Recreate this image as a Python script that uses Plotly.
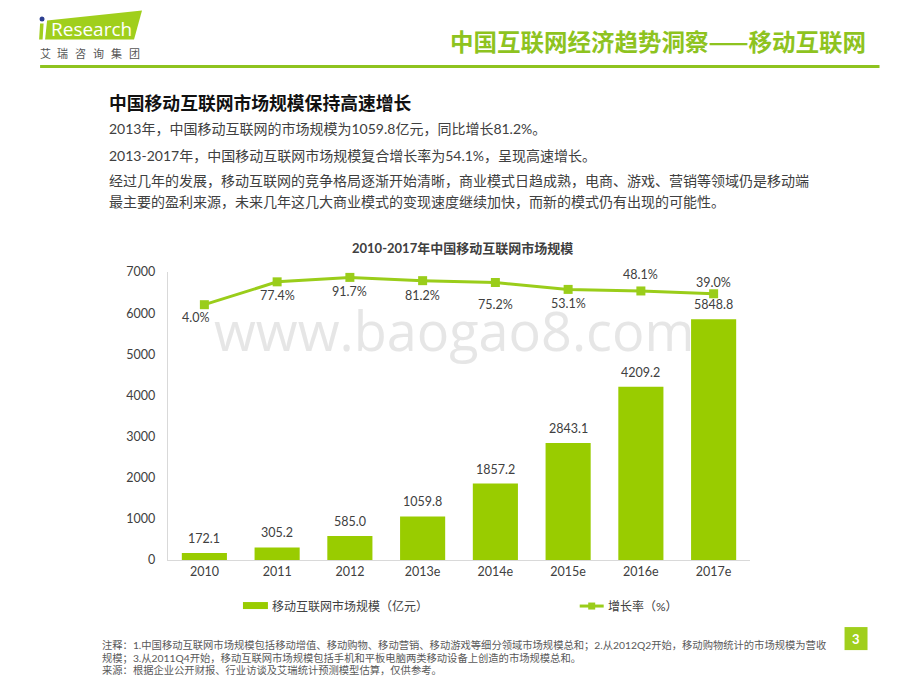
import plotly.graph_objects as go

# ---------------- data ----------------
categories = ["2010", "2011", "2012", "2013e", "2014e", "2015e", "2016e", "2017e"]
market_size = [172.1, 305.2, 585.0, 1059.8, 1857.2, 2843.1, 4209.2, 5848.8]
growth_rate = [4.0, 77.4, 91.7, 81.2, 75.2, 53.1, 48.1, 39.0]
y_ticks = [0, 1000, 2000, 3000, 4000, 5000, 6000, 7000]

# ---------------- styles ----------------
GREEN = "#99CC00"
LINE_GREEN = "#9ACD1A"
HEAD_GREEN = "#8EC31F"
TXT = "#404040"
CJK = "Noto Sans CJK SC"
NUMF = "Lato, Noto Sans CJK SC"

# growth label offsets (px): (xshift, yshift)
growth_label_offsets = [(-9, -13), (0, -14), (0, -14), (0, -15), (0, -22), (0, -14), (0, 16), (0, 11)]

W, H = 920, 690
L, R, T, B = 168, 750.4, 272.3, 560


def px(x):
    return (x - L) / (R - L)


def py(y):
    return (B - y) / (B - T)


fig = go.Figure()

fig.add_trace(go.Bar(
    x=categories, y=market_size, marker=dict(color=GREEN, line=dict(width=0)),
    yaxis="y", showlegend=False, hoverinfo="x+y"))

fig.add_trace(go.Scatter(
    x=categories, y=growth_rate, mode="lines+markers", yaxis="y2",
    line=dict(color=LINE_GREEN, width=3),
    marker=dict(symbol="square", size=9, color=LINE_GREEN),
    showlegend=False))

annotations = []
shapes = []


def note(x, y, text, size, color, family=NUMF, xanchor="left"):
    annotations.append(dict(x=px(x), y=py(y), xref="paper", yref="paper", text=text,
                            showarrow=False, xanchor=xanchor, yanchor="middle",
                            font=dict(family=family, size=size, color=color)))


# watermark (drawn first, underneath the labels)
note(454, 330, "www.baogao8.com", 54, "rgba(200,200,200,0.45)", family="Open Sans, Lato", xanchor="center")

# bar value labels (category index positions)
for i, v in enumerate(market_size):
    annotations.append(dict(x=i, y=v, xref="x", yref="y", text=f"{v:.1f}",
                            showarrow=False, xanchor="center", yanchor="bottom", yshift=5,
                            font=dict(family=NUMF, size=12.5, color=TXT)))

# growth labels
for i, (g, (dx, dy)) in enumerate(zip(growth_rate, growth_label_offsets)):
    annotations.append(dict(x=i, y=g, xref="x", yref="y2", text=f"{g:.1f}%",
                            showarrow=False, xanchor="center", yanchor="middle", xshift=dx, yshift=dy,
                            font=dict(family=NUMF, size=12.5, color=TXT)))

# chart title
note(463, 248, "<b>2010-2017年中国移动互联网市场规模</b>", 13, TXT, xanchor="center")

# header title
note(868, 42, "<b>中国互联网经济趋势洞察——移动互联网</b>", 23.5, HEAD_GREEN, family=CJK, xanchor="right")

# section heading + paragraphs
note(107, 102, "<b>中国移动互联网市场规模保持高速增长</b>", 17.8, "#111111", family=CJK)
para = [
    (129, "2013年，中国移动互联网的市场规模为1059.8亿元，同比增长81.2%。"),
    (156, "2013-2017年，中国移动互联网市场规模复合增长率为54.1%，呈现高速增长。"),
    (181, "经过几年的发展，移动互联网的竞争格局逐渐开始清晰，商业模式日趋成熟，电商、游戏、营销等领域仍是移动端"),
    (202, "最主要的盈利来源，未来几年这几大商业模式的变现速度继续加快，而新的模式仍有出现的可能性。"),
]
for yy, t in para:
    note(107, yy, t, 14, TXT)

# footnotes
notes = [
    (645, "注释：1.中国移动互联网市场规模包括移动增值、移动购物、移动营销、移动游戏等细分领域市场规模总和；2.从2012Q2开始，移动购物统计的市场规模为营收"),
    (657.5, "规模；3.从2011Q4开始，移动互联网市场规模包括手机和平板电脑两类移动设备上创造的市场规模总和。"),
    (670, "来源：根据企业公开财报、行业访谈及艾瑞统计预测模型估算，仅供参考。"),
]
for yy, t in notes:
    note(100, yy, t, 10.3, "#595959")

# legend (custom)
shapes.append(dict(type="rect", xref="paper", yref="paper", x0=px(243), x1=px(268), y0=py(609), y1=py(602),
                   fillcolor=GREEN, line=dict(width=0), layer="below"))
note(270, 606, "移动互联网市场规模（亿元）", 12, TXT)
shapes.append(dict(type="line", xref="paper", yref="paper", x0=px(580), x1=px(604), y0=py(606), y1=py(606),
                   line=dict(color=LINE_GREEN, width=3), layer="below"))
shapes.append(dict(type="rect", xref="paper", yref="paper", x0=px(588.5), x1=px(595.5), y0=py(609.5), y1=py(602.5),
                   fillcolor=LINE_GREEN, line=dict(width=0), layer="below"))
note(606, 606, "增长率（%）", 12, TXT)

# header line
shapes.append(dict(type="line", xref="paper", yref="paper", x0=px(40), x1=px(880), y0=py(67), y1=py(67),
                   line=dict(color=HEAD_GREEN, width=3), layer="below"))

# logo
shapes.append(dict(type="path", xref="paper", yref="paper",
                   path=f"M {px(47)} {py(21)} L {px(142)} {py(11)} L {px(134)} {py(40)} L {px(45)} {py(40)} Z",
                   fillcolor="#A0CF1C", line=dict(width=0), layer="below"))
shapes.append(dict(type="path", xref="paper", yref="paper",
                   path=f"M {px(40)} {py(24)} L {px(43.5)} {py(24)} L {px(42.5)} {py(40)} L {px(39)} {py(40)} Z",
                   fillcolor="#A0CF1C", line=dict(width=0), layer="below"))
shapes.append(dict(type="circle", xref="paper", yref="paper", x0=px(39.5), x1=px(44.5), y0=py(22), y1=py(17),
                   fillcolor="#2C3E91", line=dict(width=0), layer="below"))
note(91, 30, "Research", 19, "white", family="Open Sans", xanchor="center")
for i, ch in enumerate("艾瑞咨询集团"):
    note(45 + i * 17.8, 54, ch, 11, "#555555", family=CJK, xanchor="center")

# page number box
shapes.append(dict(type="rect", xref="paper", yref="paper", x0=px(845), x1=px(868), y0=py(650), y1=py(627),
                   fillcolor="#A0CF1C", line=dict(width=0), layer="below"))
note(856.5, 638.5, "<b>3</b>", 13, "white", family="Lato", xanchor="center")

fig.update_layout(
    width=W, height=H,
    margin=dict(l=L, r=W - R, t=T, b=H - B, pad=0),
    paper_bgcolor="white", plot_bgcolor="white",
    bargap=0.38,
    xaxis=dict(type="category", categoryorder="array", categoryarray=categories,
               range=[-0.5, len(categories) - 0.5],
               showline=True, linecolor="#D9D9D9", linewidth=1.3, ticks="",
               showgrid=False, zeroline=False,
               tickfont=dict(family=NUMF, size=12.5, color=TXT)),
    yaxis=dict(range=[0, 7000], tickvals=y_ticks, showgrid=False, zeroline=False,
               showline=True, linecolor="#D9D9D9", linewidth=1.3, ticks="outside",
               ticklen=9, tickcolor="rgba(0,0,0,0)",
               tickfont=dict(family=NUMF, size=12.5, color=TXT)),
    yaxis2=dict(overlaying="y", range=[-816, 109], visible=False, showgrid=False),
    annotations=annotations, shapes=shapes,
    showlegend=False,
)

fig.write_html("out.html", config={"displayModeBar": False},
               post_script="document.body.style.margin='0px';document.body.style.overflow='hidden';")
